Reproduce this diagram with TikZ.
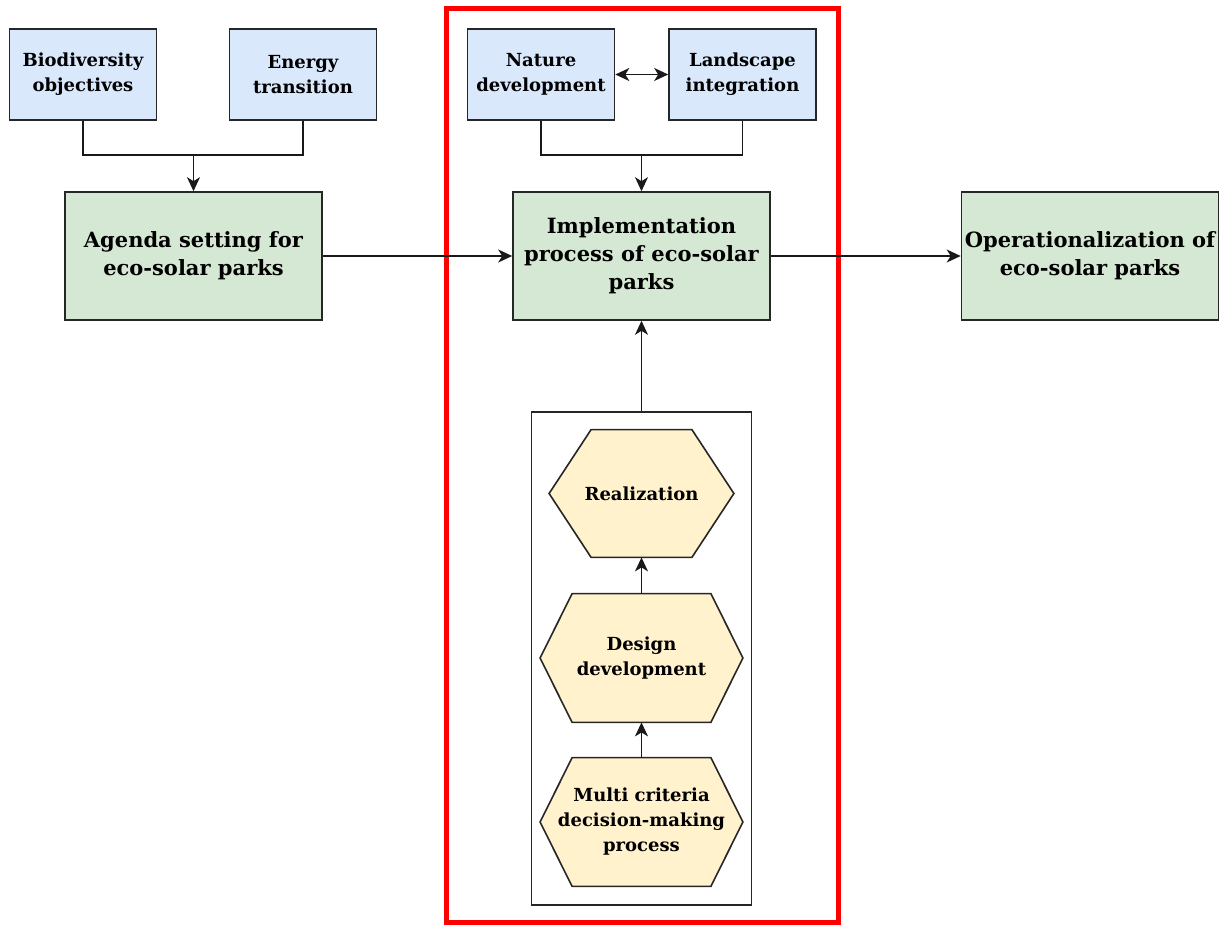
\documentclass[tikz,border=0pt]{standalone}
\usepackage{fontspec}
\setmainfont{DejaVu Serif}
\usetikzlibrary{backgrounds, arrows.meta}

\definecolor{goalblue}{HTML}{DAE8FC}
\definecolor{phasegreen}{HTML}{D5E8D4}
\definecolor{stepyellow}{HTML}{FFF2CC}

\begin{document}
\begin{tikzpicture}[x=0.5pt, y=-0.5pt, >={Stealth[length=7pt, width=6.5pt, inset=2pt]},
  goal/.style={draw=black!85, fill=goalblue, line width=0.8pt, align=center,
    minimum width=73.5pt, minimum height=45.5pt, inner sep=1pt,
    font=\fontsize{9}{12.5}\selectfont\bfseries},
  phase/.style={draw=black!85, fill=phasegreen, line width=0.8pt, align=center,
    minimum width=128.5pt, minimum height=64pt, inner sep=1pt,
    font=\fontsize{10.5}{14}\selectfont\bfseries},
  stepbox/.style={align=center, inner sep=0pt,
    font=\fontsize{9}{12.5}\selectfont\bfseries},
  link/.style={line width=0.8pt, black!90}]
  \useasboundingbox (0,0) rectangle (1228,926);

  % Frames
  \node[draw=red, line width=2.5pt, minimum width=196pt, minimum height=457pt] (focus) at (642,465) {};
  \node[draw=black!85, line width=0.8pt, minimum width=110pt, minimum height=246.5pt] (stages) at (641.5,658.5) {};

  % Drivers
  \node[goal] (bio) at (83,74.5) {Biodiversity\\objectives};
  \node[goal] (energy) at (303,74.5) {Energy\\transition};
  \node[goal] (nature) at (541,74.5) {Nature\\development};
  \node[goal] (landscape) at (742.5,74.5) {Landscape\\integration};

  % Phases
  \node[phase] (agenda) at (193.5,256) {Agenda setting for\\eco-solar parks};
  \node[phase] (impl) at (641.5,256) {Implementation\\process of eco-solar\\parks};
  \node[phase] (oper) at (1090,256) {Operationalization of\\eco-solar parks};

  % Steps
  \node[stepbox, minimum width=92pt, minimum height=63.5pt] (real) at (641.5,493.5) {Realization};
  \node[stepbox, minimum width=101pt, minimum height=64pt] (design) at (641.5,658) {Design\\development};
  \node[stepbox, minimum width=101pt, minimum height=64pt] (mcdm) at (641.5,822) {Multi criteria\\decision-making\\process};

  \begin{scope}[on background layer]
    \foreach \n/\d in {real/21pt, design/16pt, mcdm/16pt}
      \filldraw[draw=black!85, fill=stepyellow, line width=0.8pt]
        (\n.west) -- ([xshift=\d]\n.north west) -- ([xshift=-\d]\n.north east)
        -- (\n.east) -- ([xshift=-\d]\n.south east) -- ([xshift=\d]\n.south west) -- cycle;
  \end{scope}

  % Connectors
  \coordinate (agendajoin) at (193.5,155);
  \coordinate (impljoin) at (641.5,155);
  \draw[link] (bio.south) |- (agendajoin) -| (energy.south);
  \draw[link, ->] (agendajoin) -- (agenda.north);
  \draw[link] (nature.south) |- (impljoin) -| (landscape.south);
  \draw[link, ->] (impljoin) -- (impl.north);
  \draw[link, <->] (nature.east) -- (landscape.west);

  \draw[link, ->] (agenda.east) -- (impl.west);
  \draw[link, ->] (impl.east) -- (oper.west);
  \draw[link, ->] (stages.north) -- (impl.south);

  \draw[link, ->] (mcdm.north) -- (design.south);
  \draw[link, ->] (design.north) -- (real.south);
\end{tikzpicture}
\end{document}
